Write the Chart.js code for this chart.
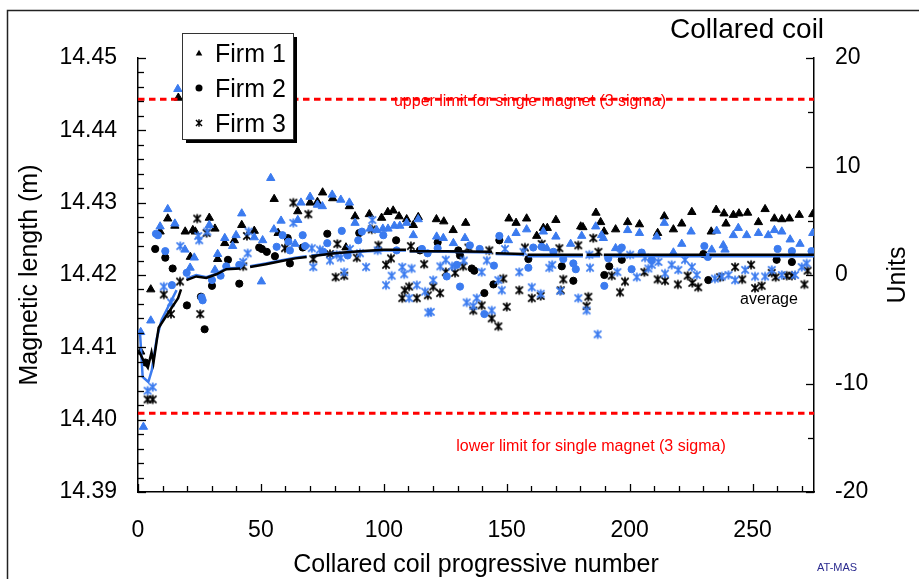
<!DOCTYPE html>
<html>
<head>
<meta charset="utf-8">
<script src="https://cdn.jsdelivr.net/npm/chart.js@4.4.0/dist/chart.umd.min.js"></script>
<style>
  html, body { margin: 0; padding: 0; background: #fff; }
  #wrap { width: 919px; height: 579px; }
</style>
</head>
<body>
<div id="wrap"><canvas id="lengthChart" width="919" height="579"></canvas></div>
<script>
// magnetic length [m] vs collared coil progressive number, aperture 1 = black, aperture 2 = blue
const firm1Black = [[1.1,14.4094],[5.2,14.4180],[9,14.4260],[12.1,14.4278],[15,14.4268],[16.4,14.4445],[19.2,14.4260],[21.3,14.4225],[22.3,14.4262],[23.3,14.4260],[29,14.4279],[31.3,14.4264],[32.4,14.4222],[35.3,14.4244],[39.2,14.4248],[42.2,14.4269],[47.3,14.4261],[55.4,14.4305],[57,14.4258],[65,14.4288],[70,14.4300],[73,14.4301],[75.1,14.4314],[79.2,14.4306],[84.6,14.4238],[86,14.4295],[88.3,14.4281],[94.1,14.4284],[99.1,14.4279],[101.6,14.4287],[103.8,14.4289],[106.2,14.4281],[109.3,14.4277],[112,14.4269],[114,14.4280],[121.4,14.4277],[124.4,14.4274],[128.2,14.4262],[133.3,14.4272],[150.9,14.4278],[153.8,14.4272],[158.1,14.4278],[162.2,14.4254],[164.9,14.4265],[166.5,14.4265],[170,14.4276],[180.1,14.4267],[181,14.4266],[186.3,14.4286],[188.2,14.4273],[189.6,14.4260],[194.3,14.4263],[199.2,14.4273],[204,14.4270],[211.4,14.4258],[214.1,14.4281],[217.8,14.4263],[221.2,14.4271],[225.3,14.4287],[233.2,14.4260],[235.2,14.4290],[238.4,14.4285],[239.2,14.4271],[242.2,14.4283],[244.5,14.4285],[248,14.4286],[252.4,14.4273],[255.1,14.4291],[258.9,14.4278],[261.9,14.4277],[265,14.4278],[269,14.4283],[274.5,14.4284]];
const firm1Blue = [[1.1,14.4121],[2.2,14.3990],[5.2,14.4137],[9,14.4267],[12.1,14.4291],[15,14.4271],[16.2,14.4457],[19.1,14.4235],[21.2,14.4210],[22.9,14.4224],[29,14.4269],[31.3,14.4207],[32.4,14.4229],[35.3,14.4251],[38.5,14.4240],[39.9,14.4255],[42.2,14.4285],[47.3,14.4252],[50.2,14.4191],[50.7,14.4248],[54,14.4334],[55.3,14.4263],[58.2,14.4275],[63.9,14.4243],[65,14.4276],[66.3,14.4300],[70,14.4308],[73,14.4297],[75,14.4295],[79,14.4311],[82.5,14.4304],[86,14.4300],[88.3,14.4272],[94.4,14.4264],[97.1,14.4262],[99.6,14.4264],[101.7,14.4264],[104.3,14.4268],[106.5,14.4268],[109.3,14.4272],[112,14.4255],[114,14.4277],[121.5,14.4253],[124.2,14.4251],[128.3,14.4244],[133,14.4251],[150.7,14.4248],[153.8,14.4258],[158.1,14.4263],[164.9,14.4260],[166.3,14.4237],[170,14.4253],[176,14.4243],[180.5,14.4254],[186.2,14.4267],[188.6,14.4255],[189.3,14.4251],[194.3,14.4237],[199.2,14.4262],[204,14.4258],[211,14.4253],[214.1,14.4272],[217.8,14.4231],[221.2,14.4243],[225,14.4260],[233.4,14.4235],[235.4,14.4261],[238.1,14.4241],[238.8,14.4235],[242.2,14.4255],[244.2,14.4265],[247.6,14.4255],[252.4,14.4258],[256.4,14.4255],[258.9,14.4262],[261.9,14.4260],[265.3,14.4249],[269.3,14.4243],[274.5,14.4258]];
const firm2Black = [[3,14.4079],[7,14.4236],[11.1,14.4224],[14.1,14.4209],[19.9,14.4158],[25.6,14.4170],[27.1,14.4125],[30.1,14.4185],[36.6,14.4221],[41.2,14.4188],[49.3,14.4238],[50.4,14.4236],[52.4,14.4232],[55.7,14.4226],[60.9,14.4251],[61.8,14.4216],[67,14.4238],[77,14.4257],[90,14.4258],[105,14.4248],[114.7,14.4234],[121.9,14.4245],[130.3,14.4234],[131,14.4227],[135.8,14.4209],[136.8,14.4206],[140.9,14.4175],[144.6,14.4187],[147,14.4248],[158.8,14.4222],[172.4,14.4212],[177.1,14.4192],[189.7,14.4200],[191.7,14.4212],[196.8,14.4221],[230,14.4229],[232,14.4193],[259.8,14.4221],[266,14.4218]];
const firm2Blue = [[7.3,14.4257],[8.1,14.4255],[11.1,14.4233],[13.8,14.4186],[19.8,14.4203],[25.9,14.4169],[26.3,14.4165],[30.1,14.4193],[33.6,14.4199],[35.9,14.4212],[41.2,14.4214],[56.4,14.4239],[58.8,14.4255],[61.2,14.4246],[61.8,14.4234],[67,14.4255],[68,14.4240],[75.4,14.4232],[77,14.4244],[82.9,14.4261],[85.3,14.4227],[89.6,14.4248],[91.1,14.4260],[99.8,14.4255],[105.2,14.4234],[115.5,14.4236],[117.8,14.4230],[121.9,14.4237],[125.6,14.4198],[129.7,14.4214],[131,14.4184],[135,14.4241],[139,14.4236],[140.9,14.4146],[144.8,14.4213],[147,14.4254],[158.8,14.4210],[160.8,14.4238],[164.2,14.4239],[169,14.4232],[173,14.4222],[177.1,14.4216],[178.1,14.4208],[189.7,14.4185],[191.3,14.4223],[196.8,14.4238],[200.8,14.4208],[204.9,14.4231],[209,14.4221],[230.4,14.4240],[231.8,14.4225],[260.2,14.4236],[266,14.4233],[274,14.4233]];
const firm3Black = [[3.9,14.4028],[6,14.4028],[10.5,14.4173],[13.4,14.4146],[17.1,14.4191],[24.1,14.4278],[25.3,14.4146],[27.9,14.4258],[42.8,14.4212],[44.3,14.4254],[59.8,14.4237],[63.2,14.4300],[69.3,14.4284],[71.3,14.4222],[78.1,14.4229],[80.4,14.4197],[81.1,14.4243],[83.9,14.4199],[89,14.4224],[95.1,14.4263],[97.8,14.4241],[100.9,14.4214],[102.9,14.4223],[107.5,14.4168],[108.5,14.4179],[110.3,14.4184],[111,14.4240],[113.4,14.4168],[116.4,14.4215],[117.9,14.4172],[120.1,14.4184],[122.9,14.4175],[125.2,14.4204],[129,14.4203],[132.3,14.4212],[134.4,14.4238],[136.4,14.4151],[139.8,14.4158],[142.9,14.4234],[143.9,14.4140],[146.6,14.4129],[148.6,14.4195],[150,14.4156],[155.1,14.4179],[157.4,14.4238],[160.2,14.4168],[163.8,14.4171],[164.2,14.4243],[171.4,14.4237],[172,14.4179],[173,14.4194],[179.1,14.4241],[182.5,14.4157],[183.2,14.4170],[185.2,14.4251],[187.3,14.4232],[192.7,14.4199],[196.1,14.4176],[198.1,14.4191],[206,14.4204],[211.4,14.4194],[214.4,14.4192],[219.6,14.4187],[223.6,14.4199],[225.5,14.4189],[227.9,14.4183],[236.8,14.4197],[242.9,14.4211],[245.8,14.4194],[249.4,14.4214],[251,14.4182],[253.7,14.4185],[257.8,14.4203],[259.4,14.4197],[263.9,14.4199],[266,14.4199],[271.1,14.4187],[272.4,14.4206]];
const firm3Blue = [[3.9,14.4040],[6,14.4045],[10.5,14.4184],[13.4,14.4162],[17.2,14.4240],[24.5,14.4254],[24.9,14.4248],[28.2,14.4260],[42.8,14.4218],[44.6,14.4230],[45,14.4260],[63.2,14.4272],[70.7,14.4237],[71.3,14.4211],[74,14.4235],[78.1,14.4220],[80.8,14.4228],[82.5,14.4224],[83.9,14.4204],[86.2,14.4236],[90.3,14.4230],[92.8,14.4211],[95.3,14.4276],[97.5,14.4234],[100.9,14.4186],[103.2,14.4199],[107.5,14.4211],[108.3,14.4201],[110.3,14.4168],[111.3,14.4209],[113.4,14.4186],[116.8,14.4177],[118.1,14.4148],[119.1,14.4149],[120.1,14.4193],[123,14.4212],[125.2,14.4221],[127.8,14.4212],[132.5,14.4220],[133.7,14.4162],[136.4,14.4157],[137.8,14.4168],[139.8,14.4204],[141.9,14.4220],[143.9,14.4151],[146.6,14.4193],[148,14.4179],[149.3,14.4236],[155.1,14.4204],[156.8,14.4232],[160.2,14.4183],[163.8,14.4174],[167.3,14.4210],[168.5,14.4214],[171.7,14.4178],[179.1,14.4168],[182.5,14.4151],[183.6,14.4228],[183.9,14.4210],[187,14.4118],[195,14.4204],[196.1,14.4230],[200.2,14.4228],[202.9,14.4197],[206.3,14.4224],[207.6,14.4209],[209,14.4214],[211.7,14.4218],[214.4,14.4202],[217.1,14.4214],[219.8,14.4207],[222.5,14.4221],[225.3,14.4211],[227.3,14.4200],[234.7,14.4195],[237.5,14.4198],[240.2,14.4200],[242.9,14.4193],[247,14.4207],[251,14.4198],[255.1,14.4198],[257.8,14.4207],[261.9,14.4200],[267.3,14.4200],[270,14.4211],[272,14.4216]];

// running averages, one segment per production batch
const avgBlackSegs = [
  [[0.5,14.4094],[2.5,14.4080],[4,14.4072],[5.5,14.4093],[6.3,14.4079],[8.4,14.4127],[11.8,14.4145],[16.3,14.4168],[17.5,14.4180]],
  [[19.7,14.4193],[23.7,14.4198],[27.8,14.4196],[31.9,14.4201],[35.9,14.4208],[41.5,14.4209]],
  [[45.6,14.4211],[52,14.4215],[58,14.4219],[64,14.4223],[68.6,14.4225]],
  [[70.5,14.4226],[80,14.4230],[90,14.4233],[100,14.4235],[109,14.4235]],
  [[110.5,14.4233],[125,14.4233],[144,14.4232]],
  [[145.5,14.4230],[157,14.4229]],
  [[158.5,14.4228],[181,14.4228]],
  [[182.5,14.4228],[188,14.4228]],
  [[189.5,14.4228],[231,14.4228]],
  [[232.5,14.4228],[275,14.4228]]
];
const avgBlueSegs = [
  [[0.8,14.4121],[1.9,14.4059],[4.2,14.4052],[5.6,14.4068],[7.6,14.4112],[9.6,14.4138],[13,14.4161],[15.7,14.4179]],
  [[19.7,14.4195],[23.7,14.4200],[27.8,14.4197],[31.9,14.4202],[35.9,14.4209],[41.5,14.4210]],
  [[45.6,14.4212],[52,14.4216],[58,14.4220],[64,14.4224],[68.6,14.4226]],
  [[70.5,14.4227],[80,14.4230],[90,14.4232],[100,14.4234],[109,14.4234]],
  [[110.5,14.4233],[125,14.4232],[144,14.4231]],
  [[145.5,14.4229],[157,14.4228]],
  [[158.5,14.4226],[181,14.4226]],
  [[182.5,14.4226],[188,14.4226]],
  [[189.5,14.4226],[231,14.4226]],
  [[232.5,14.4226],[275,14.4226]]
];

const upperLimit = 14.4443;
const lowerLimit = 14.4009;
const xRange = [0, 275];
const lengthRange = [14.39, 14.45];
const unitsRange = [-20, 20];
const firmNames = ['Firm 1', 'Firm 2', 'Firm 3'];
const firmStyles = ['triangle', 'circle', 'star'];

const BLUE = '#3b7bef';
const FONT = "'Liberation Sans', Arial, sans-serif";
Chart.defaults.font.family = FONT;
Chart.defaults.color = '#000';

const toPoints = arr => arr.map(p => ({ x: p[0], y: p[1] }));
const segPoints = segs => segs.flatMap((s, i) => i === 0 ? toPoints(s) : [{ x: s[0][0], y: null }].concat(toPoints(s)));

// excel-like star marker: an x crossed by a vertical bar
function starPath(ctx, x, y, r) {
  const d = r * 0.8;
  ctx.moveTo(x - d, y - d); ctx.lineTo(x + d, y + d);
  ctx.moveTo(x - d, y + d); ctx.lineTo(x + d, y - d);
  ctx.moveTo(x, y - r); ctx.lineTo(x, y + r);
}
function starImage(color) {
  const c = document.createElement('canvas');
  c.width = 12; c.height = 12;
  const g = c.getContext('2d');
  g.strokeStyle = color;
  g.lineWidth = 1.7;
  g.beginPath();
  starPath(g, 6, 6, 4.6);
  g.stroke();
  return c;
}

function markerSet(label, pts, style, color, order) {
  const r = style === 'circle' ? 3.6 : (style === 'triangle' ? 4.8 : 5);
  return {
    label: label, data: toPoints(pts),
    pointStyle: style === 'star' ? starImage(color) : style, pointRadius: r,
    backgroundColor: color, borderColor: color,
    borderWidth: 1, showLine: false, order: order
  };
}
function lineSet(label, pts, color, width, dash, order) {
  return {
    label: label, data: pts, showLine: true, pointRadius: 0, borderColor: color,
    borderWidth: width, borderDash: dash, spanGaps: false, tension: 0, fill: false, order: order
  };
}

const isMult = (v, step) => Math.abs(v / step - Math.round(v / step)) < 1e-6;

function drawMarker(ctx, style, x, y, r) {
  ctx.beginPath();
  if (style === 'triangle') {
    for (let i = 0; i < 3; i++) {
      const a = -Math.PI / 2 + i * 2 * Math.PI / 3;
      const px = x + r * Math.cos(a), py = y + r * Math.sin(a) + r * 0.15;
      if (i === 0) ctx.moveTo(px, py); else ctx.lineTo(px, py);
    }
    ctx.closePath(); ctx.fill();
  } else if (style === 'circle') {
    ctx.arc(x, y, r, 0, Math.PI * 2); ctx.fill();
  } else {
    starPath(ctx, x, y, r);
    ctx.stroke();
  }
}

// inward tick marks, longer where a label sits
function drawTicks(ctx, scale, step, major, side) {
  const n = Math.round((scale.max - scale.min) / step);
  for (let i = 0; i <= n; i++) {
    const v = scale.min + i * step;
    if (v > scale.max + step * 1e-6) break;
    const len = isMult(v, major) ? 8 : 6;
    const p = Math.round(scale.getPixelForValue(v)) + 0.5;
    ctx.beginPath();
    if (side === 'bottom') { ctx.moveTo(p, scale.top); ctx.lineTo(p, scale.top - len); }
    else if (side === 'left') { ctx.moveTo(scale.right, p); ctx.lineTo(scale.right + len, p); }
    else { ctx.moveTo(scale.left, p); ctx.lineTo(scale.left - len, p); }
    ctx.stroke();
  }
}

const decorations = {
  id: 'decorations',
  afterDraw(chart) {
    const ctx = chart.ctx;
    const ys = chart.scales.y;
    ctx.save();
    ctx.strokeStyle = '#000';
    ctx.lineWidth = 1.3;
    drawTicks(ctx, chart.scales.x, 10, 50, 'bottom');
    drawTicks(ctx, ys, 0.002, 0.01, 'left');
    drawTicks(ctx, chart.scales.y2, 5, 10, 'right');

    // page frame
    ctx.strokeStyle = '#222';
    ctx.lineWidth = 1.5;
    ctx.beginPath();
    ctx.moveTo(7.5, 579); ctx.lineTo(7.5, 10.5); ctx.lineTo(919, 10.5);
    ctx.stroke();

    ctx.fillStyle = '#000';
    ctx.textBaseline = 'alphabetic';
    ctx.font = '28px ' + FONT;
    ctx.textAlign = 'left';
    ctx.fillText('Collared coil', 670, 38);

    ctx.font = '25px ' + FONT;
    ctx.textAlign = 'center';
    ctx.fillText('Collared coil progressive number', 476, 572);

    ctx.save();
    ctx.translate(37, 275); ctx.rotate(-Math.PI / 2);
    ctx.fillText('Magnetic length (m)', 0, 0);
    ctx.restore();
    ctx.save();
    ctx.translate(905, 275); ctx.rotate(-Math.PI / 2);
    ctx.fillText('Units', 0, 0);
    ctx.restore();

    // limit and average labels
    ctx.font = '16px ' + FONT;
    ctx.fillStyle = '#ff0000';
    ctx.fillText('upper limit for single magnet (3 sigma)', 530, ys.getPixelForValue(upperLimit) + 7);
    ctx.fillText('lower limit for single magnet (3 sigma)', 591, ys.getPixelForValue(lowerLimit) + 38);
    ctx.fillStyle = '#000';
    ctx.textAlign = 'left';
    ctx.fillText('average', 740, 304);

    ctx.font = '11px ' + FONT;
    ctx.fillStyle = '#2b2b8f';
    ctx.fillText('AT-MAS', 817, 571);

    // legend box with drop shadow
    ctx.fillStyle = '#000';
    ctx.fillRect(186, 37, 111, 106);
    ctx.fillStyle = '#fff';
    ctx.fillRect(182, 33, 111, 106);
    ctx.strokeStyle = '#333';
    ctx.lineWidth = 1;
    ctx.strokeRect(182.5, 33.5, 111, 106);
    ctx.font = '25px ' + FONT;
    ctx.fillStyle = '#000';
    ctx.strokeStyle = '#000';
    ctx.lineWidth = 1.4;
    firmNames.forEach((name, i) => {
      const yy = 53 + i * 35;
      drawMarker(ctx, firmStyles[i], 199, yy, firmStyles[i] === 'circle' ? 3.5 : 3.8);
      ctx.fillText(name, 215, yy + 9);
    });
    ctx.restore();
  }
};

const ctx = document.getElementById('lengthChart').getContext('2d');
new Chart(ctx, {
  type: 'scatter',
  data: {
    datasets: [
      lineSet('average 1', segPoints(avgBlackSegs), '#000', 2.5, [], 0),
      lineSet('average 2', segPoints(avgBlueSegs), BLUE, 2.5, [], 0),
      lineSet('upper limit', toPoints([[xRange[0], upperLimit], [xRange[1], upperLimit]]), '#ff0000', 3, [6.5, 4.5], 1),
      lineSet('lower limit', toPoints([[xRange[0], lowerLimit], [xRange[1], lowerLimit]]), '#ff0000', 3, [6.5, 4.5], 1),
      markerSet('Firm 1 ap.2', firm1Blue, 'triangle', BLUE, 2),
      markerSet('Firm 2 ap.2', firm2Blue, 'circle', BLUE, 2),
      markerSet('Firm 3 ap.2', firm3Blue, 'star', BLUE, 2),
      markerSet('Firm 1', firm1Black, 'triangle', '#000', 3),
      markerSet('Firm 2', firm2Black, 'circle', '#000', 3),
      markerSet('Firm 3', firm3Black, 'star', '#000', 3)
    ]
  },
  options: {
    responsive: false,
    animation: false,
    events: [],
    layout: { padding: { top: 58, left: 0, right: 0, bottom: 0 } },
    plugins: { legend: { display: false }, tooltip: { enabled: false }, title: { display: false } },
    scales: {
      x: {
        type: 'linear', position: 'bottom', min: xRange[0], max: xRange[1],
        afterFit: s => { s.height = 87; },
        grid: { display: false, drawTicks: false },
        border: { display: true, color: '#000', width: 1.5 },
        ticks: {
          stepSize: 10, autoSkip: false, maxRotation: 0, padding: 25,
          font: { size: 23 }, color: '#000',
          callback: v => isMult(v, 50) ? String(v) : ''
        }
      },
      y: {
        type: 'linear', position: 'left', min: lengthRange[0], max: lengthRange[1],
        afterFit: s => { s.width = 138; },
        grid: { display: false, drawTicks: false },
        border: { display: true, color: '#000', width: 1.5 },
        ticks: {
          stepSize: 0.002, autoSkip: false, padding: 21,
          font: { size: 23 }, color: '#000',
          callback: v => isMult(v, 0.01) ? v.toFixed(2) : ''
        }
      },
      y2: {
        type: 'linear', position: 'right', min: unitsRange[0], max: unitsRange[1],
        afterFit: s => { s.width = 105; },
        grid: { display: false, drawTicks: false },
        border: { display: true, color: '#000', width: 1.5 },
        ticks: {
          stepSize: 5, autoSkip: false, padding: 21,
          font: { size: 23 }, color: '#000',
          callback: v => isMult(v, 10) ? String(v) : ''
        }
      }
    }
  },
  plugins: [decorations]
});
</script>
</body>
</html>
